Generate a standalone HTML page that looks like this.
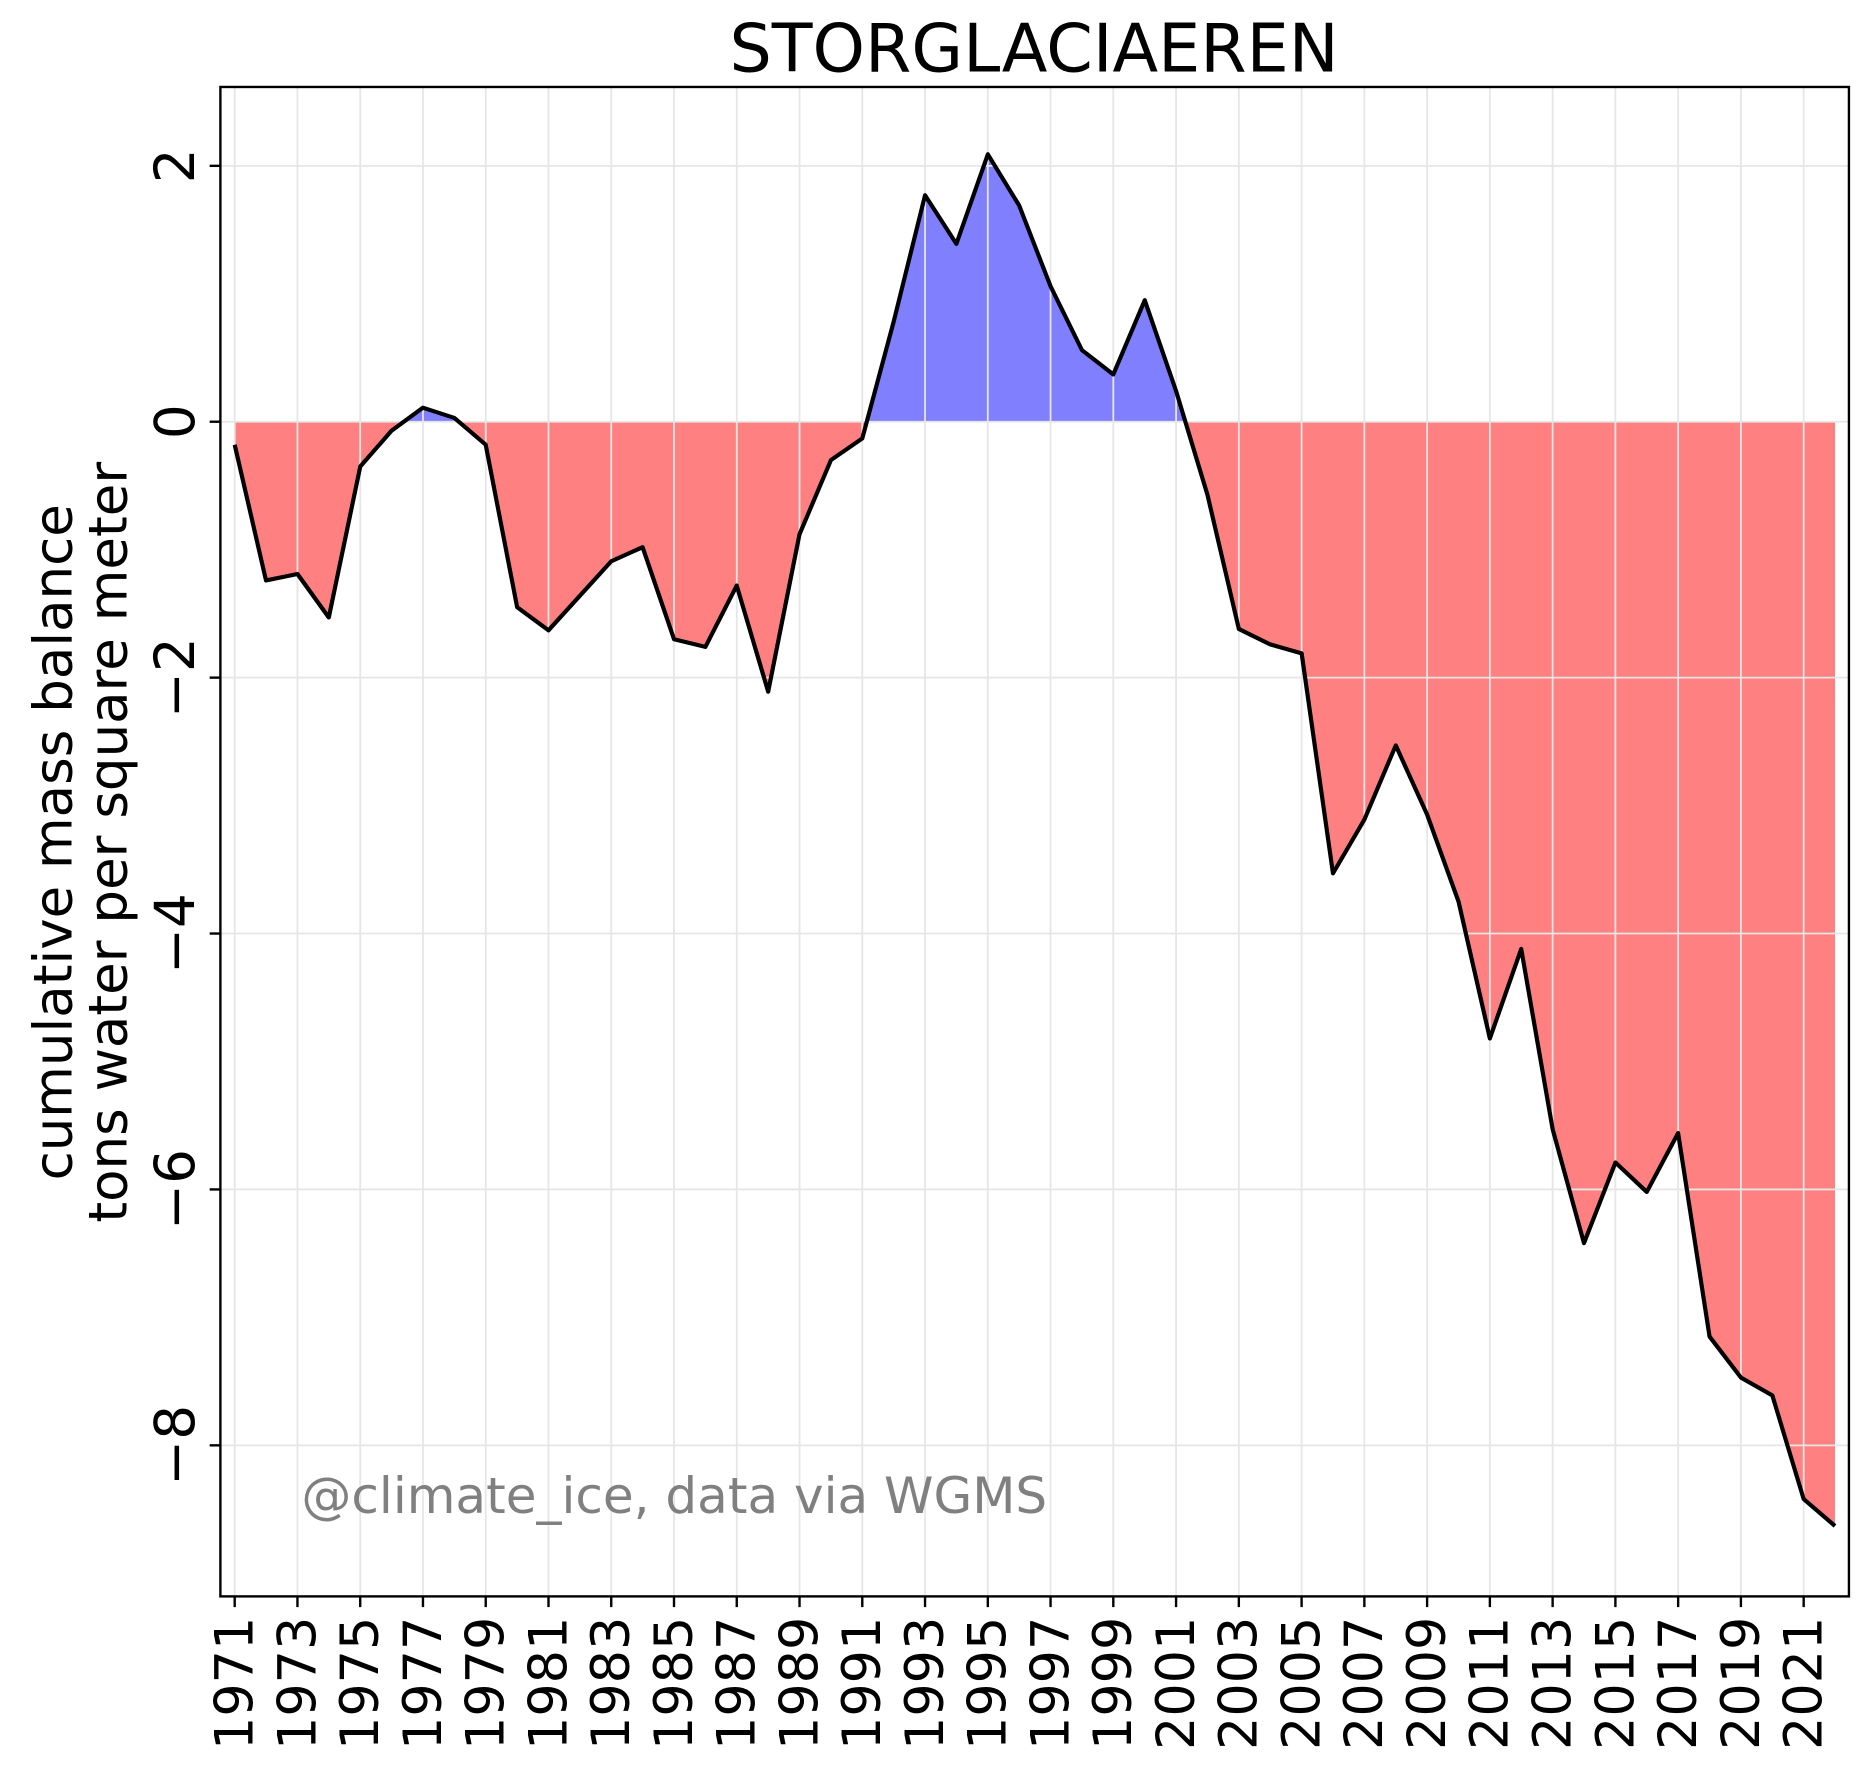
<!DOCTYPE html>
<html><head><meta charset="utf-8"><style>
html,body{margin:0;padding:0;background:#fff;}
svg{display:block;font-family:"DejaVu Sans","Liberation Sans",sans-serif;}
</style></head><body>
<svg id="chart" width="1868" height="1777" viewBox="0 0 1568 1491.6" preserveAspectRatio="none" xmlns="http://www.w3.org/2000/svg">
<defs>
<clipPath id="clipPlot"><rect x="185" y="73" width="1367" height="1267"/></clipPath>
<clipPath id="clipAbove"><rect x="185" y="73" width="1367" height="281"/></clipPath>
<clipPath id="clipBelow"><rect x="185" y="354" width="1367" height="986"/></clipPath>
</defs>
<text x="868" y="60" font-size="56" text-anchor="middle">STORGLACIAEREN</text>
<g id="fills"></g>
<g id="grid"></g>
<g id="lineg"></g>
<rect x="185" y="73" width="1367" height="1267" fill="none" stroke="#000" stroke-width="2"/>
<g id="ticks"></g>
<text x="253" y="1270" font-size="42" fill="#808080">@climate_ice, data via WGMS</text>
<text transform="translate(60,707) rotate(-90)" font-size="44.5" text-anchor="middle">cumulative mass balance</text>
<text transform="translate(106,707) rotate(-90)" font-size="44.5" text-anchor="middle">tons water per square meter</text>
</svg>
<script>
const years = [];
for (let y = 1971; y <= 2022; y++) years.push(y);
const values = [-0.18,-1.24,-1.19,-1.53,-0.35,-0.07,0.11,0.03,-0.18,-1.45,-1.63,-1.36,-1.09,-0.98,-1.70,-1.76,-1.28,-2.11,-0.88,-0.30,-0.13,0.78,1.77,1.39,2.09,1.69,1.06,0.56,0.37,0.95,0.24,-0.57,-1.62,-1.74,-1.81,-3.53,-3.11,-2.53,-3.07,-3.75,-4.82,-4.12,-5.53,-6.42,-5.79,-6.02,-5.56,-7.15,-7.47,-7.61,-8.42,-8.63];
const yTicks = [2,0,-2,-4,-6,-8];
const yTickLabels = ["2","0","\u22122","\u22124","\u22126","\u22128"];
const xTicks = [1971,1973,1975,1977,1979,1981,1983,1985,1987,1989,1991,1993,1995,1997,1999,2001,2003,2005,2007,2009,2011,2013,2015,2017,2019,2021];

const NS = "http://www.w3.org/2000/svg";
const X = yr => 197 + (yr - 1971) * 26.34;
const Y = v => 354 - v * 107.4;
function mk(tag, attrs, parent) {
  const e = document.createElementNS(NS, tag);
  for (const k in attrs) e.setAttribute(k, attrs[k]);
  document.getElementById(parent).appendChild(e);
  return e;
}
let pts = years.map((yr, i) => X(yr).toFixed(1) + "," + Y(values[i]).toFixed(1)).join(" ");
const poly = X(years[0]) + "," + Y(0) + " " + pts + " " + X(years[years.length-1]) + "," + Y(0);
const blue = mk("polygon", {points: poly, fill: "#8080ff", "clip-path": "url(#clipAbove)"}, "fills");


const red = mk("polygon", {points: poly, fill: "#ff8080", "clip-path": "url(#clipBelow)"}, "fills");



xTicks.forEach(t => {
  const g = mk("line", {x1: X(t), x2: X(t), y1: 73, y2: 1340, stroke: "#e6e6e6", "stroke-width": 1.5}, "grid");
  
  
  const tk = mk("line", {x1: X(t), x2: X(t), y1: 1340, y2: 1349, stroke: "#000", "stroke-width": 2}, "ticks");
  
  
  const tx = mk("text", {transform: "translate(" + (X(t) + 15) + ",1357) rotate(-90)", "font-size": 44, "text-anchor": "end"}, "ticks");
  tx.textContent = t;
  
  
});
yTicks.forEach((t, i) => {
  const g = mk("line", {x1: 185, x2: 1552, y1: Y(t), y2: Y(t), stroke: "#e6e6e6", "stroke-width": 1.5}, "grid");
  
  
  const tk = mk("line", {x1: 176, x2: 185, y1: Y(t), y2: Y(t), stroke: "#000", "stroke-width": 2}, "ticks");
  
  
  const tx = mk("text", {transform: "translate(163," + Y(t) + ") rotate(-90)", "font-size": 46, "text-anchor": "middle"}, "ticks");
  tx.textContent = yTickLabels[i];
  
  
});
const ln = mk("polyline", {points: pts, fill: "none", stroke: "#000", "stroke-width": 3.5, "stroke-linejoin": "round", "clip-path": "url(#clipPlot)"}, "lineg");


</script>
</body></html>
